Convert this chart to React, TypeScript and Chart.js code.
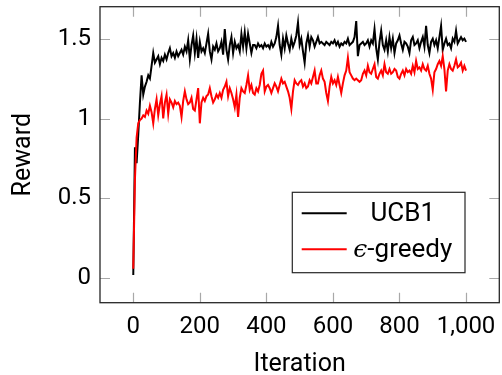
import React, { useEffect, useRef } from "react";
import { Chart, registerables } from "chart.js";

Chart.register(...registerables);

// Iterations sampled every 5 steps (0 .. 1000)
const ITERATION_STEP = 5;

const UCB1_REWARD = [
  // 0 - 95
  0.02, 0.82, 0.72, 0.9, 1.1, 1.27, 1.15, 1.2, 1.23, 1.27, 1.25, 1.33, 1.41, 1.35, 1.37, 1.39, 1.34, 1.38, 1.36, 1.4,
  // 100 - 195
  1.37, 1.41, 1.44, 1.39, 1.41, 1.38, 1.42, 1.39, 1.41, 1.43, 1.4, 1.45, 1.42, 1.49, 1.37, 1.46, 1.52, 1.41, 1.5, 1.38,
  // 200 - 295
  1.48, 1.42, 1.44, 1.41, 1.47, 1.53, 1.42, 1.37, 1.45, 1.43, 1.47, 1.42, 1.44, 1.48, 1.4, 1.56, 1.43, 1.37, 1.46, 1.51,
  // 300 - 395
  1.41, 1.48, 1.44, 1.46, 1.42, 1.53, 1.45, 1.54, 1.44, 1.53, 1.47, 1.41, 1.46, 1.46, 1.44, 1.47, 1.45, 1.46, 1.44, 1.47,
  // 400 - 495
  1.45, 1.46, 1.44, 1.48, 1.45, 1.47, 1.51, 1.58, 1.46, 1.4, 1.5, 1.44, 1.52, 1.47, 1.43, 1.5, 1.45, 1.48, 1.52, 1.6,
  // 500 - 595
  1.46, 1.5, 1.42, 1.35, 1.47, 1.52, 1.45, 1.51, 1.49, 1.45, 1.48, 1.51, 1.47, 1.48, 1.47, 1.46, 1.48, 1.47, 1.46, 1.48,
  // 600 - 695
  1.47, 1.49, 1.46, 1.48, 1.45, 1.47, 1.46, 1.48, 1.47, 1.5, 1.46, 1.47, 1.48, 1.51, 1.61, 1.39, 1.46, 1.47, 1.48, 1.46,
  // 700 - 795
  1.47, 1.49, 1.45, 1.49, 1.47, 1.56, 1.44, 1.37, 1.48, 1.55, 1.46, 1.43, 1.49, 1.42, 1.51, 1.44, 1.5, 1.41, 1.47, 1.49,
  // 800 - 895
  1.52, 1.47, 1.43, 1.48, 1.47, 1.45, 1.41, 1.49, 1.51, 1.46, 1.47, 1.49, 1.44, 1.48, 1.51, 1.45, 1.58, 1.46, 1.41, 1.48,
  // 900 - 1000
  1.5, 1.46, 1.49, 1.44, 1.51, 1.58, 1.43, 1.47, 1.5, 1.46, 1.47, 1.44, 1.5, 1.48, 1.55, 1.47, 1.49, 1.51, 1.49, 1.5, 1.48,
];

const EGREEDY_REWARD = [
  // 0 - 95
  0.06, 0.62, 0.88, 0.97, 0.99, 1.0, 1.02, 1.01, 1.05, 1.03, 1.08, 1.04, 0.97, 1.06, 1.12, 1.02, 1.09, 1.14, 1.0, 1.1,
  // 100 - 195
  1.15, 1.03, 1.12, 1.1, 1.07, 1.11, 1.09, 1.1, 1.08, 1.01, 1.11, 1.17, 1.12, 1.09, 1.1, 1.13, 1.06, 1.05, 1.12, 1.19,
  // 200 - 295
  0.97, 1.1, 1.13, 1.11, 1.14, 1.15, 1.19, 1.14, 1.1, 1.12, 1.15, 1.13, 1.16, 1.13, 1.18, 1.2, 1.23, 1.14, 1.19, 1.16,
  // 300 - 395
  1.12, 1.07, 1.15, 1.01, 1.13, 1.19, 1.17, 1.16, 1.21, 1.27, 1.18, 1.21, 1.16, 1.15, 1.19, 1.17, 1.21, 1.28, 1.3, 1.17,
  // 400 - 495
  1.2, 1.21, 1.19, 1.16, 1.19, 1.22, 1.2, 1.17, 1.21, 1.25, 1.22, 1.23, 1.2, 1.17, 1.13, 1.06, 1.17, 1.24, 1.22, 1.21,
  // 500 - 595
  1.23, 1.24, 1.2, 1.22, 1.19, 1.2, 1.24, 1.22, 1.26, 1.3, 1.22, 1.22, 1.27, 1.3, 1.25, 1.23, 1.16, 1.11, 1.2, 1.26,
  // 600 - 695
  1.22, 1.24, 1.21, 1.26, 1.21, 1.16, 1.22, 1.27, 1.3, 1.38, 1.29, 1.27, 1.25, 1.24, 1.25, 1.24, 1.23, 1.24, 1.28, 1.3,
  // 700 - 795
  1.27, 1.33, 1.29, 1.28, 1.31, 1.34, 1.26, 1.25, 1.28, 1.3, 1.27, 1.34, 1.29, 1.28, 1.31, 1.28, 1.29, 1.31, 1.3, 1.26,
  // 800 - 895
  1.25, 1.28, 1.3, 1.27, 1.31, 1.29, 1.3, 1.28, 1.33, 1.29, 1.36, 1.31, 1.32, 1.3, 1.34, 1.31, 1.3, 1.33, 1.28, 1.25,
  // 900 - 1000
  1.18, 1.29, 1.31, 1.34, 1.36, 1.33, 1.39, 1.31, 1.17, 1.3, 1.34, 1.31, 1.3, 1.33, 1.37, 1.32, 1.33, 1.35, 1.3, 1.33, 1.3,
];

const SERIES_LABELS = ["UCB1", "\u03F5-greedy"];
const SERIES_COLORS = ["#000000", "#ff0000"];

const X_TICKS = [0, 200, 400, 600, 800, 1000];
const X_TICK_LABELS = ["0", "200", "400", "600", "800", "1,000"];
const Y_TICKS = [0, 0.5, 1, 1.5];
const Y_TICK_LABELS = ["0", "0.5", "1", "1.5"];

const X_TITLE = "Iteration";
const Y_TITLE = "Reward";

const FONT_FAMILY = "Roboto, 'DejaVu Sans', sans-serif";

const framePlugin = {
  id: "frameAndLegend",
  afterDraw(chart: any) {
    const { ctx, chartArea } = chart;
    const { left, right, top, bottom } = chartArea;
    const xs = chart.scales.x;
    const ys = chart.scales.y;
    const tickLen = 10;
    ctx.save();
    // inner tick marks on all four sides
    ctx.strokeStyle = "#a8a8a8";
    ctx.lineWidth = 1.2;
    ctx.beginPath();
    X_TICKS.forEach((v) => {
      const px = Math.round(xs.getPixelForValue(v)) + 0.5;
      ctx.moveTo(px, bottom);
      ctx.lineTo(px, bottom - tickLen);
      ctx.moveTo(px, top);
      ctx.lineTo(px, top + tickLen);
    });
    Y_TICKS.forEach((v) => {
      const py = Math.round(ys.getPixelForValue(v)) + 0.5;
      ctx.moveTo(left, py);
      ctx.lineTo(left + tickLen, py);
      ctx.moveTo(right, py);
      ctx.lineTo(right - tickLen, py);
    });
    ctx.stroke();
    // frame
    ctx.strokeStyle = "#262626";
    ctx.lineWidth = 1.3;
    ctx.strokeRect(left, top, right - left, bottom - top);

    // legend box
    const boxW = 172.7;
    const boxH = 80.4;
    const bx = right - 34.3 - boxW;
    const by = bottom - 30 - boxH;
    ctx.fillStyle = "#ffffff";
    ctx.fillRect(bx, by, boxW, boxH);
    ctx.strokeStyle = "#262626";
    ctx.lineWidth = 1.2;
    ctx.strokeRect(bx, by, boxW, boxH);

    const rowY = [by + 21, by + 57];
    const textCx = bx + 110.5;
    chart.data.datasets.forEach((ds: any, i: number) => {
      ctx.strokeStyle = ds.borderColor;
      ctx.lineWidth = 2;
      ctx.beginPath();
      ctx.moveTo(bx + 9.4, rowY[i]);
      ctx.lineTo(bx + 54.4, rowY[i]);
      ctx.stroke();
    });
    ctx.fillStyle = "#000";
    ctx.textBaseline = "middle";
    ctx.textAlign = "left";
    // row 1
    const f1 = `26px ${FONT_FAMILY}`;
    ctx.font = f1;
    const t1 = chart.data.datasets[0].label;
    const w1 = ctx.measureText(t1).width;
    ctx.fillText(t1, textCx - w1 / 2, rowY[0] + 1);
    // row 2: italic epsilon + rest
    const label2: string = chart.data.datasets[1].label;
    const eps = label2.slice(0, 1);
    const rest = label2.slice(1);
    const fEps = `italic 25px 'DejaVu Serif', serif`;
    ctx.font = fEps;
    const we = ctx.measureText(eps).width;
    ctx.font = f1;
    const wr = ctx.measureText(rest).width;
    const start = textCx - (we + wr) / 2;
    ctx.font = fEps;
    ctx.fillText(eps, start, rowY[1] + 1);
    ctx.font = f1;
    ctx.fillText(rest, start + we, rowY[1] + 1);
    ctx.restore();
  },
};

export default function App() {
  const canvasRef = useRef<HTMLCanvasElement | null>(null);

  useEffect(() => {
    if (!canvasRef.current) return;
    const toPoints = (vals: number[]) => vals.map((y, i) => ({ x: i * ITERATION_STEP, y }));
    const tickFont = { family: FONT_FAMILY, size: 24 };
    const titleFont = { family: FONT_FAMILY, size: 25, lineHeight: 0.84 };
    const chart = new Chart(canvasRef.current, {
      type: "line",
      data: {
        datasets: [
          {
            label: SERIES_LABELS[0],
            data: toPoints(UCB1_REWARD),
            borderColor: SERIES_COLORS[0],
            backgroundColor: SERIES_COLORS[0],
            borderWidth: 2,
            pointRadius: 0,
            tension: 0,
            order: 1,
          },
          {
            label: SERIES_LABELS[1],
            data: toPoints(EGREEDY_REWARD),
            borderColor: SERIES_COLORS[1],
            backgroundColor: SERIES_COLORS[1],
            borderWidth: 2,
            pointRadius: 0,
            tension: 0,
            order: 0,
          },
        ],
      },
      options: {
        animation: false,
        responsive: false,
        maintainAspectRatio: false,
        layout: { padding: { top: 6.7, right: 2.7, left: 0, bottom: 0 } },
        plugins: { legend: { display: false }, tooltip: { enabled: false } },
        scales: {
          x: {
            type: "linear",
            min: -100,
            max: 1100,
            afterBuildTicks: (s: any) => {
              s.ticks = X_TICKS.map((v) => ({ value: v }));
            },
            afterFit: (s: any) => {
              s.height = 72.3;
              s.paddingLeft = 0;
              s.paddingRight = 0;
            },
            grid: { drawOnChartArea: false, drawTicks: false },
            border: { display: false },
            ticks: {
              padding: 10,
              color: "#000",
              font: tickFont,
              maxRotation: 0,
              autoSkip: false,
              callback: (v: any) => {
                const i = X_TICKS.indexOf(Number(v));
                return i >= 0 ? X_TICK_LABELS[i] : "";
              },
            },
            title: { display: true, text: X_TITLE, color: "#000", font: titleFont, padding: { top: 0, bottom: 0 } },
          },
          y: {
            type: "linear",
            min: -0.153,
            max: 1.7,
            afterBuildTicks: (s: any) => {
              s.ticks = Y_TICKS.map((v) => ({ value: v }));
            },
            afterFit: (s: any) => {
              s.width = 100;
              s.paddingTop = 0;
              s.paddingBottom = 0;
            },
            grid: { drawOnChartArea: false, drawTicks: false },
            border: { display: false },
            ticks: {
              padding: 9,
              color: "#000",
              font: tickFont,
              autoSkip: false,
              callback: (v: any) => {
                const i = Y_TICKS.indexOf(Number(v));
                return i >= 0 ? Y_TICK_LABELS[i] : "";
              },
            },
            title: { display: true, text: Y_TITLE, color: "#000", font: titleFont, padding: { top: 13, bottom: 0 } },
          },
        },
      },
      plugins: [framePlugin],
    } as any);
    return () => chart.destroy();
  }, []);

  return (
    <div style={{ position: "absolute", left: 0, top: 0, width: 502, height: 375, background: "#fff" }}>
      <canvas ref={canvasRef} width={502} height={375} style={{ display: "block" }} />
    </div>
  );
}
